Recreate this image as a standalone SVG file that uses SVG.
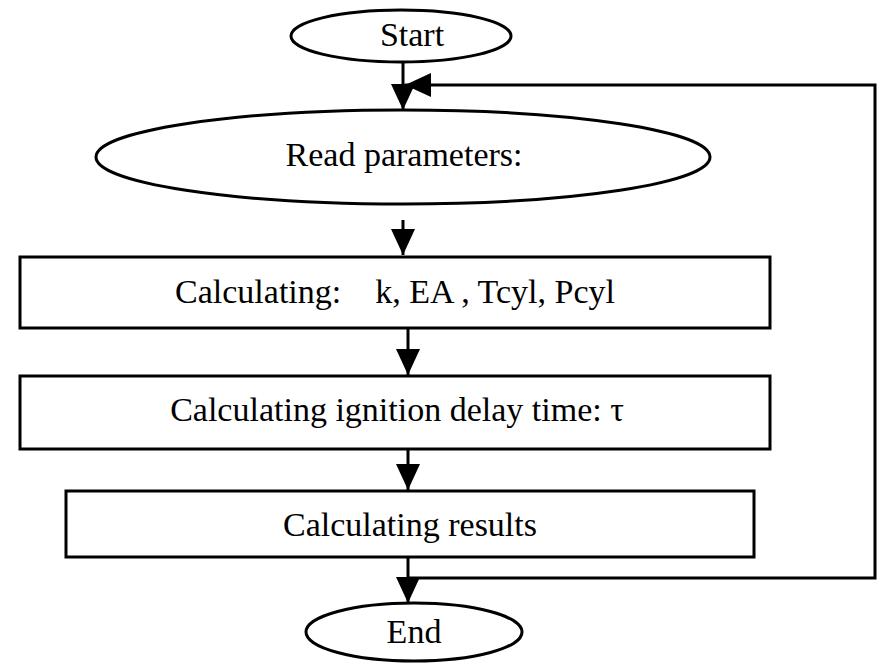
<svg xmlns="http://www.w3.org/2000/svg" width="885" height="669" viewBox="0 0 885 669">
<style>
.n{fill:#fff;stroke:#000;stroke-width:3}
.t{font-family:"Liberation Serif",serif;font-size:34px;text-anchor:middle;fill:#000}
.c{fill:none;stroke:#000;stroke-width:3}
</style>
<defs><marker id="a" viewBox="0 0 26 24" refX="26" refY="12" markerWidth="26" markerHeight="24" markerUnits="userSpaceOnUse" orient="auto"><path d="M0,0L26,12L0,24z"/></marker></defs>
<rect width="885" height="669" fill="#fff"/>
<g id="connectors">
<path class="c" d="M403,62V110" marker-end="url(#a)"/>
<path class="c" d="M408,578H875V85H405" marker-end="url(#a)"/>
<path class="c" d="M403,220V255" marker-end="url(#a)"/>
<path class="c" d="M408,328V375" marker-end="url(#a)"/>
<path class="c" d="M408,449V490" marker-end="url(#a)"/>
<path class="c" d="M408,557V603" marker-end="url(#a)"/>
</g>
<g id="start"><ellipse class="n" cx="401" cy="36" rx="110" ry="26"/><text class="t" x="412" y="46">Start</text></g>
<g id="read"><ellipse class="n" cx="403" cy="157" rx="307" ry="47"/><text class="t" x="404" y="166">Read parameters:</text></g>
<g id="calc1"><rect class="n" x="20" y="257" width="750" height="71"/><text class="t" x="395" y="303" xml:space="preserve">Calculating:    k, EA , Tcyl, Pcyl</text></g>
<g id="calc2"><rect class="n" x="20" y="376" width="750" height="73"/><text class="t" x="397" y="421">Calculating ignition delay time: τ</text></g>
<g id="calc3"><rect class="n" x="66" y="491" width="688" height="66"/><text class="t" x="410" y="536">Calculating results</text></g>
<g id="end"><ellipse class="n" cx="414" cy="632" rx="108" ry="29"/><text class="t" x="414" y="643">End</text></g>
</svg>
